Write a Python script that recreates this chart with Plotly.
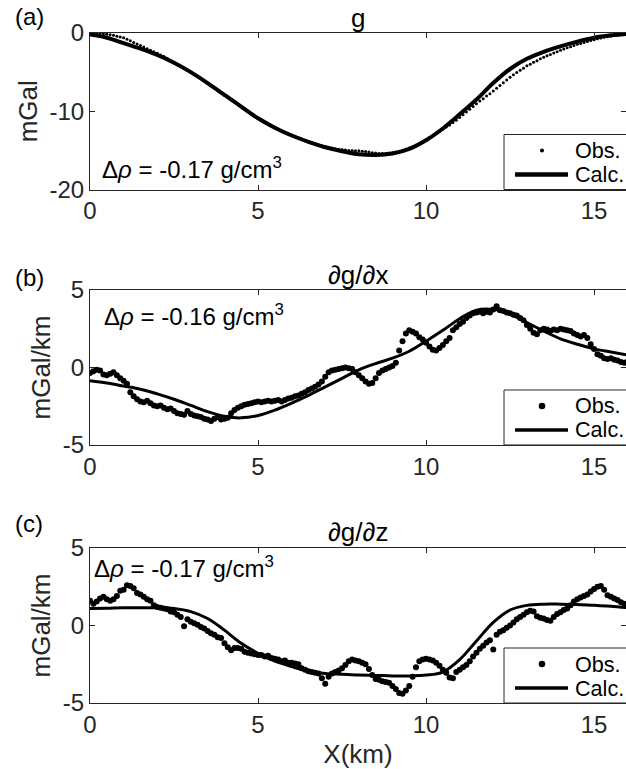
import plotly.graph_objects as go
from plotly.subplots import make_subplots

FONT = "Liberation Sans, Arial, Helvetica, sans-serif"
INK = "#262626"

# station positions (km): observations every 0.1 km, model curve every 0.5 km
x_obs = [i / 10 for i in range(161)]
x_calc = [i / 2 for i in range(33)]

# (a) gravity anomaly g (mGal)
g_obs = [
    0.0, -0.02, -0.05, -0.08, -0.1, -0.15, -0.22, -0.3, -0.4, -0.5,
    -0.62, -0.8, -1.0, -1.2, -1.4, -1.6, -1.8, -2.0, -2.2, -2.4,
    -2.6, -2.8, -3.0, -3.25, -3.5, -3.75, -4.0, -4.25, -4.5, -4.8,
    -5.05, -5.3, -5.6, -5.85, -6.15, -6.45, -6.75, -7.05, -7.35, -7.65,
    -7.95, -8.25, -8.55, -8.85, -9.15, -9.45, -9.75, -10.05, -10.35, -10.6,
    -10.9, -11.15, -11.4, -11.65, -11.9, -12.1, -12.3, -12.5, -12.7, -12.9,
    -13.05, -13.2, -13.4, -13.55, -13.7, -13.85, -14.0, -14.15, -14.3, -14.4,
    -14.5, -14.6, -14.7, -14.8, -14.85, -14.9, -14.95, -15.0, -15.0, -15.05,
    -15.05, -15.1, -15.15, -15.2, -15.3, -15.35, -15.4, -15.4, -15.4, -15.35,
    -15.3, -15.2, -15.1, -15.0, -14.85, -14.7, -14.55, -14.35, -14.15, -13.9,
    -13.65, -13.35, -13.1, -12.85, -12.6, -12.3, -12.0, -11.75, -11.45, -11.15,
    -10.8, -10.45, -10.1, -9.75, -9.4, -9.05, -8.7, -8.4, -8.05, -7.75,
    -7.4, -7.05, -6.7, -6.35, -6.0, -5.65, -5.35, -5.05, -4.75, -4.5,
    -4.2, -4.0, -3.75, -3.55, -3.3, -3.1, -2.9, -2.75, -2.55, -2.4,
    -2.2, -2.05, -1.9, -1.75, -1.6, -1.45, -1.35, -1.2, -1.1, -0.95,
    -0.85, -0.75, -0.65, -0.55, -0.47, -0.4, -0.33, -0.27, -0.2, -0.15,
    -0.1,
]
g_calc = [
    -0.2, -0.6, -1.3, -2.0, -2.8, -3.8, -5.0, -6.4, -7.9, -9.4,
    -10.9, -12.1, -13.1, -13.9, -14.6, -15.1, -15.5, -15.6, -15.4, -14.8,
    -13.7, -12.2, -10.4, -8.5, -6.4, -4.6, -3.3, -2.4, -1.7, -1.1,
    -0.6, -0.3, -0.1,
]

# (b) horizontal gradient dg/dx (mGal/km)
gx_obs = [
    -0.35, -0.25, -0.15, -0.2, -0.45, -0.5, -0.4, -0.3, -0.5, -0.7,
    -0.85, -1.05, -1.6, -1.85, -2.05, -2.2, -2.25, -2.15, -2.3, -2.45,
    -2.5, -2.45, -2.6, -2.7, -2.65, -2.8, -2.95, -3.0, -3.05, -2.8,
    -3.0, -3.1, -3.15, -3.2, -3.3, -3.35, -3.45, -3.3, -3.2, -3.35,
    -3.3, -3.25, -2.95, -2.75, -2.6, -2.5, -2.4, -2.35, -2.3, -2.25,
    -2.2, -2.25, -2.2, -2.15, -2.2, -2.15, -2.1, -2.2, -2.1, -2.0,
    -1.95, -1.85, -1.8, -1.7, -1.6, -1.45, -1.35, -1.25, -1.1, -0.9,
    -0.6, -0.3, -0.2, -0.15, -0.1, -0.05, 0.0, -0.05, -0.1, -0.3,
    -0.5, -0.7, -0.9, -1.05, -1.0, -0.7, -0.35, -0.2, -0.1, 0.0,
    0.1, 0.3, 1.1, 1.7, 2.2, 2.4, 2.3, 2.2, 1.95, 1.8,
    1.6, 1.35, 1.15, 1.1, 1.25, 1.45, 1.7, 1.9, 2.4, 2.6,
    2.8, 2.95, 3.2, 3.35, 3.5, 3.55, 3.6, 3.5, 3.6, 3.55,
    3.75, 3.95, 3.7, 3.65, 3.55, 3.5, 3.4, 3.35, 3.2, 3.05,
    2.75, 2.5, 2.25, 2.15, 2.4, 2.5, 2.45, 2.35, 2.45, 2.4,
    2.5, 2.45, 2.4, 2.35, 2.2, 2.1, 2.0, 2.1, 1.9, 1.5,
    1.2, 0.85, 0.75, 0.6, 0.55, 0.6, 0.5, 0.45, 0.35, 0.3,
    0.4,
]
gx_calc = [
    -0.85, -1.0, -1.2, -1.4, -1.7, -2.05, -2.45, -2.85, -3.15, -3.25,
    -3.1, -2.75, -2.3, -1.8, -1.25, -0.7, -0.15, 0.25, 0.6, 1.05,
    1.7, 2.4, 3.15, 3.7, 3.75, 3.45, 2.9, 2.35, 1.85, 1.5,
    1.2, 1.0, 0.8,
]

# (c) vertical gradient dg/dz (mGal/km)
gz_obs = [
    1.6, 1.4, 1.55, 1.75, 1.85, 1.7, 1.6, 1.7, 1.9, 2.25,
    2.3, 2.6, 2.55, 2.4, 2.1, 2.0, 1.85, 1.7, 1.6, 1.3,
    1.2, 1.15, 1.1, 1.05, 0.9, 0.85, 0.7, 0.55, -0.05, 0.4,
    0.25, 0.15, 0.05, -0.1, -0.2, -0.35, -0.5, -0.6, -0.75, -0.8,
    -1.15, -1.4, -1.6, -1.45, -1.45, -1.5, -1.7, -1.75, -1.8, -1.85,
    -1.9, -1.9, -2.0, -1.95, -2.1, -2.15, -2.2, -2.3, -2.25, -2.4,
    -2.4, -2.45, -2.5, -2.75, -2.85, -2.95, -3.0, -3.05, -3.1, -3.4,
    -3.75, -3.3, -3.1, -3.0, -2.9, -2.75, -2.55, -2.3, -2.2, -2.25,
    -2.3, -2.4, -2.5, -2.8, -3.2, -3.45, -3.5, -3.6, -3.65, -3.7,
    -3.9, -4.1, -4.35, -4.4, -4.2, -3.9, -3.3, -2.7, -2.3, -2.2,
    -2.15, -2.2, -2.25, -2.4, -2.6, -2.85, -3.05, -3.35, -3.4, -3.0,
    -2.85, -2.7, -2.55, -2.3, -2.0, -1.75, -1.5, -1.3, -1.1, -0.95,
    -1.55, -0.6, -0.4, -0.3, -0.15, 0.0, 0.2, 0.4, 0.55, 0.7,
    0.85, 0.95, 0.9, 0.6, 0.5, 0.45, 0.35, 0.3, 0.55, 0.75,
    0.85, 1.0, 1.1, 1.3, 1.55, 1.7, 1.8, 1.9, 2.0, 2.2,
    2.35, 2.5, 2.55, 2.3, 1.95, 1.85, 1.75, 1.65, 1.5, 1.4,
    1.3,
]
gz_calc = [
    1.1, 1.12, 1.15, 1.15, 1.15, 1.1, 0.9, 0.45, -0.3, -1.15,
    -1.8, -2.3, -2.65, -2.95, -3.1, -3.15, -3.2, -3.22, -3.25, -3.25,
    -3.2, -3.0, -2.2, -1.0, 0.2, 1.0, 1.3, 1.38, 1.38, 1.36,
    1.3, 1.25, 1.15,
]

titles = ["g", "\u2202g/\u2202x", "\u2202g/\u2202z"]
panel_tags = ["(a)", "(b)", "(c)"]
density_labels = ["-0.17", "-0.16", "-0.17"]
y_labels = ["mGal", "mGal/km", "mGal/km"]
y_ranges = [[-20, 0], [-5, 5], [-5, 5]]
y_ticks = [[-20, -10, 0], [-5, 0, 5], [-5, 0, 5]]
x_ticks = [0, 5, 10, 15]
key_labels = ["Obs.", "Calc."]

obs_series = [g_obs, gx_obs, gz_obs]
calc_series = [g_calc, gx_calc, gz_calc]
obs_sizes = [3, 6, 6]
key_dot_sizes = [4, 6.6, 6.6]
calc_widths = [4, 3, 3]

# page geometry in pixels
W, H = 626, 769
L, T, B = 90, 33, 66
PLOT_W = W - L
PLOT_H = H - T - B


def px_x(px):
    return (px - L) / PLOT_W


def px_y(py):
    return (H - B - py) / PLOT_H


# panel layout (paper fractions of the plotting area)
domains = [[0.7664, 1.0], [0.3851, 0.6164], [0.0, 0.2313]]
density_pos = [(0.3, -17.3), (0.35, 3.39), (0.05, 3.8)]
title_y = [1.0224, 0.6388, 0.2552]
tag_y = [1.0239, 0.6358, 0.2672]

fig = make_subplots(rows=3, cols=1)

for i in range(3):
    row = i + 1
    fig.add_trace(go.Scatter(
        x=x_obs, y=obs_series[i], mode="markers", name=key_labels[0],
        marker=dict(size=obs_sizes[i], color="black", line=dict(width=0)),
        showlegend=False,
    ), row=row, col=1)
    fig.add_trace(go.Scatter(
        x=x_calc, y=calc_series[i], mode="lines", name=key_labels[1],
        line=dict(color="black", width=calc_widths[i], shape="spline", smoothing=1.0),
        showlegend=False,
    ), row=row, col=1)

axis_common = dict(
    showline=True, linecolor=INK, linewidth=1, mirror="ticks",
    ticks="inside", ticklen=5, tickwidth=1, tickcolor=INK,
    showgrid=False, zeroline=False,
    tickfont=dict(family=FONT, size=24, color=INK),
)

for i in range(3):
    sfx = "" if i == 0 else str(i + 1)
    fig.layout["xaxis" + sfx].update(
        domain=[0, 1], range=[0, 15.95], tickvals=x_ticks,
        ticktext=[str(v) for v in x_ticks], **axis_common,
    )
    fig.layout["yaxis" + sfx].update(
        domain=domains[i], range=y_ranges[i], tickvals=y_ticks[i],
        ticktext=[str(v) for v in y_ticks[i]],
        title=dict(text=y_labels[i], font=dict(family=FONT, size=26, color=INK), standoff=4),
        **axis_common,
    )

fig.layout.xaxis3.title = dict(text="X(km)", font=dict(family=FONT, size=26, color=INK), standoff=8)

annotations = []
shapes = []
for i in range(3):
    sfx = "" if i == 0 else str(i + 1)
    annotations.append(dict(
        xref="x" + sfx + " domain", yref="paper", x=0.5, y=title_y[i],
        text=titles[i], showarrow=False, xanchor="center", yanchor="middle",
        font=dict(family=FONT, size=26, color="black"),
    ))
    annotations.append(dict(
        xref="paper", yref="paper", x=-0.1437, y=tag_y[i],
        text=panel_tags[i], showarrow=False, xanchor="left", yanchor="middle",
        font=dict(family=FONT, size=24, color="black"),
    ))
    dx, dy = density_pos[i]
    annotations.append(dict(
        xref="x" + sfx, yref="y" + sfx, x=dx, y=dy,
        text="\u0394<i>\u03c1</i> = " + density_labels[i] + " g/cm<sup>3</sup>",
        showarrow=False, xanchor="left", yanchor="middle",
        font=dict(family=FONT, size=24, color="black"),
    ))

    # key box in the lower right corner of each panel
    axis_bottom = H - B - domains[i][0] * PLOT_H
    box_top = axis_bottom - 55
    row_obs = box_top + 16
    row_calc = box_top + 40
    shapes.append(dict(
        type="rect", xref="paper", yref="paper",
        x0=px_x(504), x1=1.01, y0=px_y(axis_bottom), y1=px_y(box_top),
        line=dict(color=INK, width=1), fillcolor="white", layer="above",
    ))
    r = key_dot_sizes[i] / 2
    shapes.append(dict(
        type="circle", xref="paper", yref="paper",
        xsizemode="pixel", ysizemode="pixel",
        xanchor=px_x(542), yanchor=px_y(row_obs),
        x0=-r, x1=r, y0=-r, y1=r,
        fillcolor="black", line=dict(width=0), layer="above",
    ))
    shapes.append(dict(
        type="line", xref="paper", yref="paper",
        x0=px_x(515), x1=px_x(568), y0=px_y(row_calc), y1=px_y(row_calc),
        line=dict(color="black", width=calc_widths[i] + 0.5), layer="above",
    ))
    for label, yy in zip(key_labels, [row_obs, row_calc]):
        annotations.append(dict(
            xref="paper", yref="paper", x=px_x(573), y=px_y(yy),
            text=label, showarrow=False, xanchor="left", yanchor="middle",
            font=dict(family=FONT, size=21.6, color="black"),
        ))

fig.update_layout(
    width=W, height=H,
    margin=dict(l=L, r=0, t=T, b=B),
    plot_bgcolor="white", paper_bgcolor="white",
    font=dict(family=FONT, size=24, color="black"),
    annotations=annotations,
    shapes=shapes,
    showlegend=False,
)

fig.write_html("out.html")
